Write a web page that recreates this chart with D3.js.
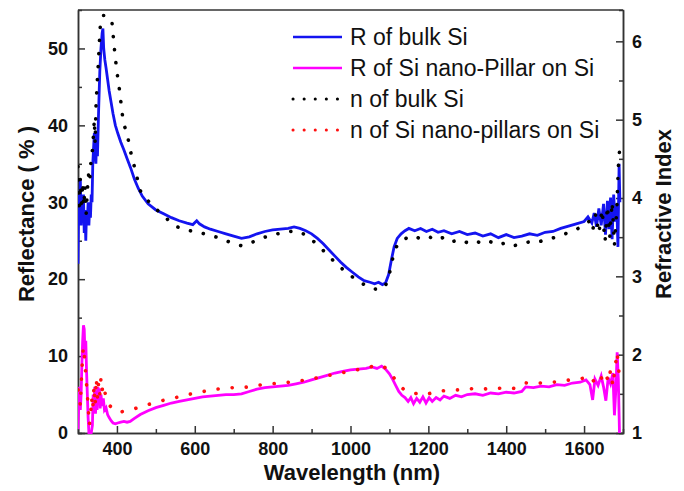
<!DOCTYPE html>
<meta charset="utf-8">
<style>
    body { margin: 0; background: #fff; }
    .axis text { font-family: "Liberation Sans", Arial, sans-serif; font-weight: bold; font-size: 18px; fill: #111; }
    .axis path, .axis line { stroke: #333; stroke-width: 1.5; }
    .title { font-family: "Liberation Sans", Arial, sans-serif; font-weight: bold; font-size: 22px; fill: #111; }
    .legend text { font-family: "Liberation Sans", Arial, sans-serif; font-size: 23px; fill: #111; }
</style>
<body>
<svg></svg>
</body>
<script src="https://d3js.org/d3.v7.min.js"></script>
<script>
    // [wavelength nm, reflectance %]
    var rBulk = [[300,22],[302,31],[304,28],[306,33],[308,27],[310,30],[312,28],[314,31],[316,26],[318,29],[320,25],[322,29],[324,27.5],[326,30],[328,27],[330,29.5],[332,28],[334,31],[336,30],[338,35],[340,37],[342,39],[344,37.5],[346,35],[348,39],[350,36],[353,42],[356,47],[359,50],[362,52],[364,52.6],[366,50],[369,48.5],[372,47.5],[376,46],[380,44.5],[385,43],[390,41.5],[396,40],[402,39],[410,37.8],[418,36.8],[426,35.7],[435,34.5],[445,33],[455,31.8],[465,30.8],[480,29.8],[500,29],[520,28.5],[540,28],[560,27.6],[580,27.3],[595,27.1],[605,27.6],[612,27.2],[625,26.8],[640,26.5],[660,26.2],[680,25.9],[700,25.6],[720,25.3],[740,25.5],[760,25.9],[780,26.2],[800,26.4],[820,26.5],[840,26.6],[855,26.8],[870,26.6],[885,26.3],[900,25.9],[915,25.3],[930,24.6],[945,23.8],[960,23.0],[975,22.2],[990,21.5],[1005,20.9],[1020,20.3],[1035,19.8],[1050,19.6],[1062,19.4],[1072,19.6],[1082,19.3],[1090,19.5],[1098,20.6],[1105,22.5],[1112,24.2],[1120,25.3],[1130,25.9],[1140,26.3],[1150,26.6],[1165,26.3],[1180,26.6],[1195,26.2],[1210,26.5],[1225,26.1],[1240,26.3],[1260,25.9],[1280,26.2],[1300,25.8],[1320,26.0],[1340,25.6],[1360,25.9],[1380,25.4],[1400,25.8],[1420,25.4],[1440,25.6],[1460,25.9],[1480,25.7],[1500,26.1],[1520,26.2],[1540,26.6],[1560,26.9],[1580,27.2],[1600,27.5],[1610,28.1],[1620,27.3],[1626,28.6],[1632,26.8],[1638,29.2],[1644,27.0],[1650,29.8],[1655,25.8],[1660,30.2],[1664,26.5],[1668,30.6],[1672,25.2],[1676,31],[1680,27.5],[1684,29.5],[1687,24.2],[1690,35],[1692,30]];

    var rPillar = [[300,0.5],[302,4],[304,6],[306,3],[308,5],[310,9],[312,12],[314,14],[316,13.5],[318,10],[320,12],[322,8],[324,5],[326,2],[328,0],[331,0],[334,0],[337,1],[339,5],[341,3],[343,6],[345,2.5],[347,5.5],[349,3],[351,6],[353,4],[355,5.8],[357,3.2],[359,5],[362,3.5],[365,4.5],[368,3],[372,3.3],[376,2.4],[380,2],[385,1.6],[390,1.3],[396,1.2],[402,1.3],[410,1.4],[418,1.5],[426,1.4],[434,1.5],[445,1.9],[460,2.4],[480,2.9],[500,3.3],[520,3.6],[540,3.9],[560,4.1],[580,4.3],[600,4.5],[620,4.7],[640,4.8],[660,4.9],[680,5.0],[700,5.0],[720,5.1],[740,5.4],[760,5.7],[780,5.9],[800,6.0],[820,6.1],[840,6.2],[860,6.4],[880,6.6],[900,6.9],[920,7.2],[940,7.5],[960,7.8],[980,8.0],[1000,8.2],[1020,8.3],[1040,8.4],[1055,8.6],[1068,8.4],[1080,8.7],[1090,8.3],[1100,7.7],[1108,7.0],[1116,6.2],[1124,5.4],[1132,4.9],[1140,4.6],[1148,4.1],[1155,4.6],[1162,3.8],[1170,4.5],[1178,4.0],[1186,4.7],[1194,3.9],[1202,4.6],[1210,4.1],[1220,4.6],[1230,4.3],[1240,4.8],[1255,4.5],[1270,4.9],[1285,4.7],[1300,5.0],[1320,5.1],[1340,4.9],[1360,5.2],[1380,5.1],[1400,5.3],[1420,5.2],[1440,5.4],[1450,6.0],[1470,5.9],[1490,6.1],[1510,6.0],[1530,6.3],[1550,6.2],[1570,6.5],[1590,6.6],[1605,6.9],[1615,6.3],[1622,4.3],[1628,7.0],[1636,6.2],[1644,7.4],[1650,6.0],[1656,4.2],[1662,7.2],[1668,6.4],[1674,7.8],[1678,2.3],[1682,6.0],[1685,10.5],[1688,7],[1691,0]];

    // [wavelength nm, refractive index]
    var nBulk = [[300,4.4],[303,3.9],[306,4.25],[309,3.85],[312,4.2],[315,3.9],[318,4.15],[321,3.8],[324,4.1],[327,4.3],[330,4.2],[333,4.45],[336,4.55],[339,4.75],[342,5.0],[344,4.7],[346,5.15],[349,5.45],[352,5.7],[355,6.0],[358,6.26],[364,6.33],[372,6.33],[380,6.3],[387,6.26],[391,6.04],[395,5.83],[400,5.61],[406,5.4],[416,4.98],[428,4.77],[437,4.55],[449,4.32],[459,4.1],[472,4.0],[485,3.94],[505,3.84],[523,3.76],[540,3.68],[556,3.63],[580,3.59],[600,3.57],[618,3.55],[636,3.53],[656,3.50],[677,3.46],[700,3.42],[720,3.39],[740,3.42],[760,3.46],[780,3.50],[800,3.53],[820,3.55],[840,3.57],[860,3.58],[880,3.54],[900,3.47],[920,3.38],[940,3.28],[960,3.18],[980,3.09],[1000,3.01],[1020,2.94],[1040,2.88],[1060,2.84],[1075,2.83],[1088,2.86],[1098,2.98],[1106,3.18],[1114,3.34],[1124,3.43],[1140,3.48],[1160,3.52],[1180,3.48],[1200,3.51],[1220,3.46],[1240,3.50],[1260,3.44],[1280,3.47],[1300,3.43],[1320,3.46],[1340,3.41],[1360,3.44],[1380,3.40],[1400,3.43],[1420,3.39],[1440,3.42],[1460,3.44],[1480,3.43],[1500,3.47],[1520,3.49],[1540,3.52],[1560,3.56],[1580,3.60],[1600,3.65],[1612,3.70],[1622,3.58],[1630,3.80],[1638,3.55],[1646,3.85],[1654,3.45],[1660,3.90],[1666,3.50],[1672,3.95],[1678,3.40],[1684,3.85],[1688,4.4],[1691,4.6]];

    var nPillar = [[300,1.55],[303,1.5],[306,1.35],[309,1.7],[312,2.0],[314,2.1],[317,1.95],[320,1.75],[323,1.55],[326,1.35],[329,1.1],[332,1.2],[335,1.45],[338,1.3],[341,1.6],[344,1.35],[347,1.7],[350,1.45],[353,1.65],[356,1.5],[359,1.7],[362,1.55],[366,1.62],[370,1.5],[375,1.45],[380,1.36],[390,1.3],[400,1.27],[412,1.27],[425,1.29],[445,1.31],[465,1.34],[485,1.37],[505,1.40],[530,1.43],[550,1.45],[570,1.48],[592,1.50],[612,1.52],[633,1.54],[655,1.56],[677,1.57],[700,1.58],[720,1.58],[740,1.59],[762,1.61],[780,1.62],[800,1.63],[830,1.64],[860,1.66],[890,1.68],[920,1.71],[950,1.74],[980,1.77],[1010,1.80],[1040,1.83],[1065,1.86],[1085,1.85],[1100,1.79],[1112,1.70],[1124,1.62],[1136,1.56],[1150,1.52],[1165,1.50],[1180,1.52],[1200,1.50],[1220,1.53],[1240,1.54],[1260,1.55],[1280,1.55],[1300,1.56],[1320,1.57],[1340,1.56],[1360,1.57],[1380,1.57],[1400,1.58],[1420,1.57],[1440,1.60],[1450,1.64],[1470,1.63],[1490,1.64],[1510,1.65],[1530,1.65],[1550,1.67],[1570,1.68],[1590,1.69],[1605,1.71],[1615,1.73],[1625,1.66],[1635,1.75],[1645,1.70],[1655,1.78],[1662,1.65],[1668,1.80],[1674,1.60],[1680,1.85],[1685,2.03],[1690,1.75]];

    var xTicks = [400, 600, 800, 1000, 1200, 1400, 1600];
    var yLeftTicks = [0, 10, 20, 30, 40, 50];
    var yRightTicks = [1, 2, 3, 4, 5, 6];

    var legendItems = [
        {label: "R of bulk Si", color: "#1414f0", dotted: false},
        {label: "R of Si nano-Pillar on Si", color: "#ff00ff", dotted: false},
        {label: "n of bulk Si", color: "#000", dotted: true},
        {label: "n of Si nano-pillars on Si", color: "#ff1010", dotted: true}
    ];

    var margin = {top: 10, right: 61, bottom: 58, left: 78},
        width = 684 - margin.left - margin.right,
        height = 491 - margin.top - margin.bottom;

    var svg = d3.select("svg")
        .attr("width", 684)
        .attr("height", 491);

    var g = svg.append("g")
        .attr("transform", "translate(" + margin.left + "," + margin.top + ")");

    var x = d3.scaleLinear().domain([300, 1700]).range([0, width]);
    var yL = d3.scaleLinear().domain([0, 55]).range([height, 0]);
    var yR = d3.scaleLinear().domain([1, 6.4]).range([height, 0]);

    var fmt = d3.format("d");

    // minor ticks first
    g.append("g").attr("class", "axis")
        .attr("transform", "translate(0," + height + ")")
        .call(d3.axisBottom(x).tickValues(d3.range(500, 1700, 200)).tickSize(-4).tickFormat(""));
    g.append("g").attr("class", "axis")
        .call(d3.axisLeft(yL).tickValues(d3.range(5, 55, 10)).tickSize(-4).tickFormat(""));
    g.append("g").attr("class", "axis")
        .attr("transform", "translate(" + width + ",0)")
        .call(d3.axisRight(yR).tickValues(d3.range(1.5, 6.4, 1)).tickSize(-4).tickFormat(""));

    g.append("g").attr("class", "axis")
        .attr("transform", "translate(0," + height + ")")
        .call(d3.axisBottom(x).tickValues(xTicks).tickSize(-7).tickPadding(9).tickSizeOuter(0).tickFormat(fmt));
    g.append("g").attr("class", "axis")
        .call(d3.axisLeft(yL).tickValues(yLeftTicks).tickSize(-7).tickPadding(10).tickSizeOuter(0).tickFormat(fmt));
    g.append("g").attr("class", "axis")
        .attr("transform", "translate(" + width + ",0)")
        .call(d3.axisRight(yR).tickValues(yRightTicks).tickSize(-7).tickPadding(9).tickSizeOuter(0).tickFormat(fmt));

    g.append("line")
        .attr("x1", 0).attr("x2", width).attr("y1", 0).attr("y2", 0)
        .style("stroke", "#333").style("stroke-width", 1.5);

    g.append("clipPath").attr("id", "clip")
        .append("rect").attr("width", width).attr("height", height + 2).attr("y", -1);

    var lineL = d3.line().x(function (d) { return x(d[0]); }).y(function (d) { return yL(d[1]); });
    var lineR = d3.line().x(function (d) { return x(d[0]); }).y(function (d) { return yR(d[1]); });

    var plot = g.append("g").attr("clip-path", "url(#clip)");

    plot.append("path").datum(rPillar).attr("d", lineL)
        .style("fill", "none").style("stroke", "#ff00ff").style("stroke-width", 2.8);
    plot.append("path").datum(nPillar).attr("d", lineR)
        .style("fill", "none").style("stroke", "#ff1010").style("stroke-width", 3.6)
        .style("stroke-linecap", "round").style("stroke-dasharray", "0.1 14");
    plot.append("path").datum(rBulk).attr("d", lineL)
        .style("fill", "none").style("stroke", "#1414f0").style("stroke-width", 2.8);
    plot.append("path").datum(nBulk).attr("d", lineR)
        .style("fill", "none").style("stroke", "#000").style("stroke-width", 3.6)
        .style("stroke-linecap", "round").style("stroke-dasharray", "0.1 13");

    // axis titles
    svg.append("text").attr("class", "title")
        .attr("transform", "translate(34,214) rotate(-90)")
        .attr("text-anchor", "middle")
        .text("Reflectance ( % )");
    svg.append("text").attr("class", "title")
        .attr("transform", "translate(671,214) rotate(-90)")
        .attr("text-anchor", "middle")
        .text("Refractive Index");
    svg.append("text").attr("class", "title")
        .attr("x", 352).attr("y", 480)
        .attr("text-anchor", "middle")
        .text("Wavelength (nm)");

    // legend
    var legend = svg.append("g").attr("class", "legend");
    legendItems.forEach(function (d, i) {
        var yy = 37 + i * 31;
        legend.append("line")
            .attr("x1", 293).attr("x2", 342).attr("y1", yy).attr("y2", yy)
            .style("stroke", d.color)
            .style("stroke-width", d.dotted ? 3 : 2.6)
            .style("stroke-linecap", d.dotted ? "round" : "butt")
            .style("stroke-dasharray", d.dotted ? "0.1 11" : null);
        legend.append("text")
            .attr("x", 350).attr("y", yy + 8)
            .text(d.label);
    });
</script>
</html>
